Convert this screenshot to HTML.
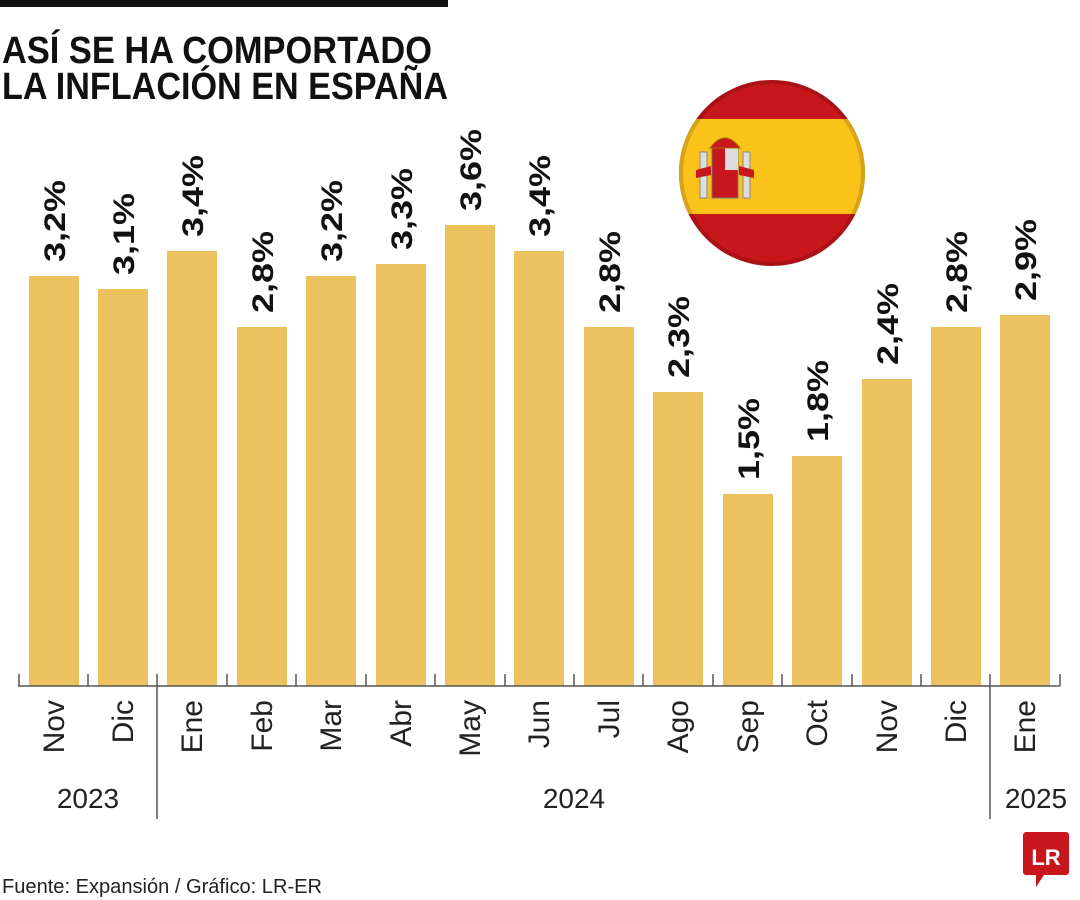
<!DOCTYPE html>
<html><head><meta charset="utf-8"><style>
html,body{margin:0;padding:0;background:#fff;}
svg{display:block;}
text{font-family:"Liberation Sans",sans-serif;}
</style></head><body>
<svg width="1080" height="900" viewBox="0 0 1080 900" xmlns="http://www.w3.org/2000/svg">
<rect x="0" y="0" width="448" height="7" fill="#111"/>
<text x="2" y="63" font-size="38" font-weight="bold" fill="#111" textLength="430" lengthAdjust="spacingAndGlyphs">ASÍ SE HA COMPORTADO</text>
<text x="2" y="99" font-size="38" font-weight="bold" fill="#111" textLength="446" lengthAdjust="spacingAndGlyphs">LA INFLACIÓN EN ESPAÑA</text>
<defs><clipPath id="c"><circle cx="772" cy="173" r="93"/></clipPath></defs>
<g clip-path="url(#c)">
<rect x="670" y="70" width="210" height="210" fill="#c8161d"/>
<rect x="670" y="119" width="210" height="95" fill="#fbc21a"/>
</g>
<circle cx="772" cy="173" r="91" fill="none" stroke="#000" stroke-opacity="0.15" stroke-width="4"/>
<g>
<rect x="712" y="148" width="26" height="50" fill="#c8161d" stroke="#777" stroke-width="1"/>
<rect x="725" y="148" width="13" height="22" fill="#ddd"/>
<path d="M710 148 Q725 128 740 148 Z" fill="#c8161d" stroke="#a07000"/>
<rect x="700" y="152" width="7" height="46" fill="#ddd" stroke="#888"/>
<rect x="743" y="152" width="7" height="46" fill="#ddd" stroke="#888"/>
<path d="M696 170 L711 166 L711 175 L696 178Z M739 166 L754 170 L754 178 L739 175Z" fill="#c8161d"/>
</g>
<g fill="#ebc25e">
<rect x="29" y="276" width="50" height="410"/>
<rect x="98" y="289" width="50" height="397"/>
<rect x="167" y="251" width="50" height="435"/>
<rect x="237" y="327" width="50" height="359"/>
<rect x="306" y="276" width="50" height="410"/>
<rect x="376" y="264" width="50" height="422"/>
<rect x="445" y="225" width="50" height="461"/>
<rect x="514" y="251" width="50" height="435"/>
<rect x="584" y="327" width="50" height="359"/>
<rect x="653" y="392" width="50" height="294"/>
<rect x="723" y="494" width="50" height="192"/>
<rect x="792" y="456" width="50" height="230"/>
<rect x="862" y="379" width="50" height="307"/>
<rect x="931" y="327" width="50" height="359"/>
<rect x="1000" y="315" width="50" height="371"/>
</g>
<g stroke="#555" stroke-width="1.5" fill="none">
<line x1="18" y1="686" x2="1060" y2="686"/>
<line x1="19" y1="674" x2="19" y2="686"/>
<line x1="88" y1="674" x2="88" y2="686"/>
<line x1="157" y1="674" x2="157" y2="819"/>
<line x1="227" y1="674" x2="227" y2="686"/>
<line x1="296" y1="674" x2="296" y2="686"/>
<line x1="366" y1="674" x2="366" y2="686"/>
<line x1="435" y1="674" x2="435" y2="686"/>
<line x1="505" y1="674" x2="505" y2="686"/>
<line x1="574" y1="674" x2="574" y2="686"/>
<line x1="643" y1="674" x2="643" y2="686"/>
<line x1="713" y1="674" x2="713" y2="686"/>
<line x1="782" y1="674" x2="782" y2="686"/>
<line x1="852" y1="674" x2="852" y2="686"/>
<line x1="921" y1="674" x2="921" y2="686"/>
<line x1="990" y1="674" x2="990" y2="819"/>
<line x1="1060" y1="674" x2="1060" y2="686"/>
</g>
<g font-size="30" font-weight="bold" fill="#111">
<text transform="translate(65,262) rotate(-90)" textLength="82" lengthAdjust="spacingAndGlyphs">3,2%</text>
<text transform="translate(134,275) rotate(-90)" textLength="82" lengthAdjust="spacingAndGlyphs">3,1%</text>
<text transform="translate(203,237) rotate(-90)" textLength="82" lengthAdjust="spacingAndGlyphs">3,4%</text>
<text transform="translate(273,313) rotate(-90)" textLength="82" lengthAdjust="spacingAndGlyphs">2,8%</text>
<text transform="translate(342,262) rotate(-90)" textLength="82" lengthAdjust="spacingAndGlyphs">3,2%</text>
<text transform="translate(412,250) rotate(-90)" textLength="82" lengthAdjust="spacingAndGlyphs">3,3%</text>
<text transform="translate(481,211) rotate(-90)" textLength="82" lengthAdjust="spacingAndGlyphs">3,6%</text>
<text transform="translate(550,237) rotate(-90)" textLength="82" lengthAdjust="spacingAndGlyphs">3,4%</text>
<text transform="translate(620,313) rotate(-90)" textLength="82" lengthAdjust="spacingAndGlyphs">2,8%</text>
<text transform="translate(689,378) rotate(-90)" textLength="82" lengthAdjust="spacingAndGlyphs">2,3%</text>
<text transform="translate(759,480) rotate(-90)" textLength="82" lengthAdjust="spacingAndGlyphs">1,5%</text>
<text transform="translate(828,442) rotate(-90)" textLength="82" lengthAdjust="spacingAndGlyphs">1,8%</text>
<text transform="translate(898,365) rotate(-90)" textLength="82" lengthAdjust="spacingAndGlyphs">2,4%</text>
<text transform="translate(967,313) rotate(-90)" textLength="82" lengthAdjust="spacingAndGlyphs">2,8%</text>
<text transform="translate(1036,301) rotate(-90)" textLength="82" lengthAdjust="spacingAndGlyphs">2,9%</text>
</g>
<g font-size="30" fill="#222" text-anchor="end">
<text transform="translate(64,700) rotate(-90)">Nov</text>
<text transform="translate(133,700) rotate(-90)">Dic</text>
<text transform="translate(202,700) rotate(-90)">Ene</text>
<text transform="translate(272,700) rotate(-90)">Feb</text>
<text transform="translate(341,700) rotate(-90)">Mar</text>
<text transform="translate(411,700) rotate(-90)">Abr</text>
<text transform="translate(480,700) rotate(-90)">May</text>
<text transform="translate(549,700) rotate(-90)">Jun</text>
<text transform="translate(619,700) rotate(-90)">Jul</text>
<text transform="translate(688,700) rotate(-90)">Ago</text>
<text transform="translate(758,700) rotate(-90)">Sep</text>
<text transform="translate(827,700) rotate(-90)">Oct</text>
<text transform="translate(897,700) rotate(-90)">Nov</text>
<text transform="translate(966,700) rotate(-90)">Dic</text>
<text transform="translate(1035,700) rotate(-90)">Ene</text>
</g>
<g font-size="28" fill="#222" text-anchor="middle">
<text x="88" y="808">2023</text>
<text x="574" y="808">2024</text>
<text x="1036" y="808">2025</text>
</g>
<text x="2" y="893" font-size="20" fill="#222" textLength="320" lengthAdjust="spacingAndGlyphs">Fuente: Expansión / Gráfico: LR-ER</text>
<path d="M1026 832 h40 a3 3 0 0 1 3 3 v37 a3 3 0 0 1 -3 3 h-22 l-8 12 v-12 h-10 a3 3 0 0 1 -3 -3 v-37 a3 3 0 0 1 3 -3z" fill="#c8161d"/>
<text x="1046" y="865" font-family="Liberation Serif,serif" font-size="22" font-weight="bold" fill="#fff" text-anchor="middle">LR</text>
</svg>
</body></html>
